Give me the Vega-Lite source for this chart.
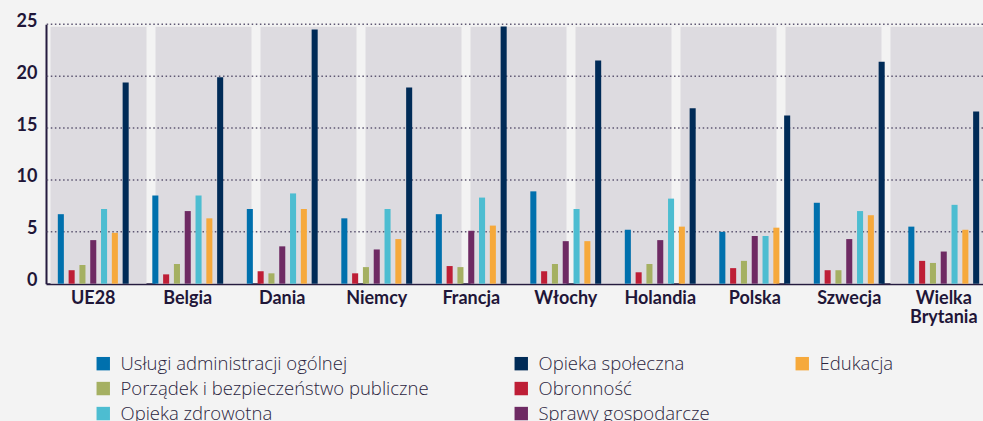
{
  "$schema": "https://vega.github.io/schema/vega-lite/v6.json",
  "width": 937,
  "height": 259.4,
  "autosize": {"type": "none"},
  "padding": {"left": 46, "top": 24.3, "right": 0, "bottom": 137.3},
  "background": "#f3f3f3",
  "config": {"view": {"stroke": null}, "font": "Lato"},
  "datasets": {
    "bands": [{"band": 1}, {"band": 2}, {"band": 3}, {"band": 4}, {"band": 5}, {"band": 6}, {"band": 7}, {"band": 8}, {"band": 9}],
    "grid": [{"g": 5}, {"g": 10}, {"g": 15}, {"g": 20}, {"g": 25}],
    "spend": [
      {"country": "UE28", "category": "Usługi administracji ogólnej", "value": 6.7},
      {"country": "UE28", "category": "Obronność", "value": 1.3},
      {"country": "UE28", "category": "Porządek i bezpieczeństwo publiczne", "value": 1.8},
      {"country": "UE28", "category": "Sprawy gospodarcze", "value": 4.2},
      {"country": "UE28", "category": "Opieka zdrowotna", "value": 7.2},
      {"country": "UE28", "category": "Edukacja", "value": 4.9},
      {"country": "UE28", "category": "Opieka społeczna", "value": 19.4},
      {"country": "Belgia", "category": "Usługi administracji ogólnej", "value": 8.5},
      {"country": "Belgia", "category": "Obronność", "value": 0.9},
      {"country": "Belgia", "category": "Porządek i bezpieczeństwo publiczne", "value": 1.9},
      {"country": "Belgia", "category": "Sprawy gospodarcze", "value": 7.0},
      {"country": "Belgia", "category": "Opieka zdrowotna", "value": 8.5},
      {"country": "Belgia", "category": "Edukacja", "value": 6.3},
      {"country": "Belgia", "category": "Opieka społeczna", "value": 19.9},
      {"country": "Dania", "category": "Usługi administracji ogólnej", "value": 7.2},
      {"country": "Dania", "category": "Obronność", "value": 1.2},
      {"country": "Dania", "category": "Porządek i bezpieczeństwo publiczne", "value": 1.0},
      {"country": "Dania", "category": "Sprawy gospodarcze", "value": 3.6},
      {"country": "Dania", "category": "Opieka zdrowotna", "value": 8.7},
      {"country": "Dania", "category": "Edukacja", "value": 7.2},
      {"country": "Dania", "category": "Opieka społeczna", "value": 24.5},
      {"country": "Niemcy", "category": "Usługi administracji ogólnej", "value": 6.3},
      {"country": "Niemcy", "category": "Obronność", "value": 1.0},
      {"country": "Niemcy", "category": "Porządek i bezpieczeństwo publiczne", "value": 1.6},
      {"country": "Niemcy", "category": "Sprawy gospodarcze", "value": 3.3},
      {"country": "Niemcy", "category": "Opieka zdrowotna", "value": 7.2},
      {"country": "Niemcy", "category": "Edukacja", "value": 4.3},
      {"country": "Niemcy", "category": "Opieka społeczna", "value": 18.9},
      {"country": "Francja", "category": "Usługi administracji ogólnej", "value": 6.7},
      {"country": "Francja", "category": "Obronność", "value": 1.7},
      {"country": "Francja", "category": "Porządek i bezpieczeństwo publiczne", "value": 1.6},
      {"country": "Francja", "category": "Sprawy gospodarcze", "value": 5.1},
      {"country": "Francja", "category": "Opieka zdrowotna", "value": 8.3},
      {"country": "Francja", "category": "Edukacja", "value": 5.6},
      {"country": "Francja", "category": "Opieka społeczna", "value": 24.8},
      {"country": "Włochy", "category": "Usługi administracji ogólnej", "value": 8.9},
      {"country": "Włochy", "category": "Obronność", "value": 1.2},
      {"country": "Włochy", "category": "Porządek i bezpieczeństwo publiczne", "value": 1.9},
      {"country": "Włochy", "category": "Sprawy gospodarcze", "value": 4.1},
      {"country": "Włochy", "category": "Opieka zdrowotna", "value": 7.2},
      {"country": "Włochy", "category": "Edukacja", "value": 4.1},
      {"country": "Włochy", "category": "Opieka społeczna", "value": 21.5},
      {"country": "Holandia", "category": "Usługi administracji ogólnej", "value": 5.2},
      {"country": "Holandia", "category": "Obronność", "value": 1.1},
      {"country": "Holandia", "category": "Porządek i bezpieczeństwo publiczne", "value": 1.9},
      {"country": "Holandia", "category": "Sprawy gospodarcze", "value": 4.2},
      {"country": "Holandia", "category": "Opieka zdrowotna", "value": 8.2},
      {"country": "Holandia", "category": "Edukacja", "value": 5.5},
      {"country": "Holandia", "category": "Opieka społeczna", "value": 16.9},
      {"country": "Polska", "category": "Usługi administracji ogólnej", "value": 5.0},
      {"country": "Polska", "category": "Obronność", "value": 1.5},
      {"country": "Polska", "category": "Porządek i bezpieczeństwo publiczne", "value": 2.2},
      {"country": "Polska", "category": "Sprawy gospodarcze", "value": 4.6},
      {"country": "Polska", "category": "Opieka zdrowotna", "value": 4.6},
      {"country": "Polska", "category": "Edukacja", "value": 5.4},
      {"country": "Polska", "category": "Opieka społeczna", "value": 16.2},
      {"country": "Szwecja", "category": "Usługi administracji ogólnej", "value": 7.8},
      {"country": "Szwecja", "category": "Obronność", "value": 1.3},
      {"country": "Szwecja", "category": "Porządek i bezpieczeństwo publiczne", "value": 1.3},
      {"country": "Szwecja", "category": "Sprawy gospodarcze", "value": 4.3},
      {"country": "Szwecja", "category": "Opieka zdrowotna", "value": 7.0},
      {"country": "Szwecja", "category": "Edukacja", "value": 6.6},
      {"country": "Szwecja", "category": "Opieka społeczna", "value": 21.4},
      {"country": "Wielka Brytania", "category": "Usługi administracji ogólnej", "value": 5.5},
      {"country": "Wielka Brytania", "category": "Obronność", "value": 2.2},
      {"country": "Wielka Brytania", "category": "Porządek i bezpieczeństwo publiczne", "value": 2.0},
      {"country": "Wielka Brytania", "category": "Sprawy gospodarcze", "value": 3.1},
      {"country": "Wielka Brytania", "category": "Opieka zdrowotna", "value": 7.6},
      {"country": "Wielka Brytania", "category": "Edukacja", "value": 5.2},
      {"country": "Wielka Brytania", "category": "Opieka społeczna", "value": 16.6}
    ]
  },
  "layer": [
    {
      "data": {"name": "bands"},
      "mark": {"type": "rect", "color": "#dddbe0"},
      "encoding": {
        "x": {"field": "band", "type": "ordinal", "axis": null,
              "scale": {"range": [0, 945], "paddingInner": 0.0857, "paddingOuter": 0.043}},
        "y": {"datum": 24.77, "type": "quantitative", "scale": {"domain": [0, 25], "nice": false}},
        "y2": {"datum": 0}
      }
    },
    {
      "data": {"name": "grid"},
      "mark": {"type": "rule", "color": "#5e5772", "strokeWidth": 1.5, "strokeDash": [1.5, 2.6]},
      "encoding": {
        "y": {"field": "g", "type": "quantitative"}
      }
    },
    {
      "data": {"name": "spend"},
      "mark": {"type": "bar"},
      "encoding": {
        "x": {
          "field": "country", "type": "nominal",
          "sort": ["UE28", "Belgia", "Dania", "Niemcy", "Francja", "Włochy", "Holandia", "Polska", "Szwecja", "Wielka Brytania"],
          "scale": {"range": [0, 945], "paddingInner": 0.25, "paddingOuter": 0.125},
          "axis": {
            "title": null, "labelAngle": 0, "ticks": false, "grid": false,
            "domainColor": "#251b3f", "domainWidth": 2,
            "labelFont": "Lato", "labelFontSize": 18, "labelFontWeight": "bold", "labelColor": "#1f1638",
            "labelPadding": 6, "labelLineHeight": 19,
            "labelExpr": "datum.value == 'Wielka Brytania' ? ['Wielka', 'Brytania'] : datum.value"
          }
        },
        "xOffset": {
          "field": "category", "type": "nominal",
          "scale": {
            "domain": ["Usługi administracji ogólnej", "Obronność", "Porządek i bezpieczeństwo publiczne", "Sprawy gospodarcze", "Opieka zdrowotna", "Edukacja", "Opieka społeczna"],
            "paddingInner": 0.44, "paddingOuter": 0
          }
        },
        "y": {
          "field": "value", "type": "quantitative",
          "scale": {"domain": [0, 25], "nice": false},
          "axis": {
            "title": null, "values": [0, 5, 10, 15, 20, 25], "ticks": false, "grid": false,
            "domainColor": "#251b3f", "domainWidth": 2,
            "labelFont": "Lato", "labelFontSize": 18, "labelFontWeight": "bold", "labelColor": "#1f1638",
            "labelPadding": 9, "labelFlush": false, "labelOffset": -3
          }
        },
        "color": {
          "field": "category", "type": "nominal",
          "scale": {
            "domain": ["Usługi administracji ogólnej", "Porządek i bezpieczeństwo publiczne", "Opieka zdrowotna", "Opieka społeczna", "Obronność", "Sprawy gospodarcze", "Edukacja", " "],
            "range": ["#0070ad", "#a5b062", "#4dbdd1", "#002b57", "#be1e36", "#6e2a63", "#f6a93b", "transparent"]
          },
          "legend": {
            "orient": "none", "legendX": 48, "legendY": 330, "columns": 3, "columnPadding": 83, "rowPadding": 6,
            "title": null, "symbolType": "square", "symbolSize": 180, "symbolStrokeWidth": 0,
            "labelFont": "Open Sans", "labelFontSize": 18.5, "labelFontWeight": 300, "labelColor": "#2b2540",
            "labelOffset": 8, "labelLimit": 400
          }
        }
      }
    }
  ],
  "resolve": {"scale": {"x": "independent"}}
}
